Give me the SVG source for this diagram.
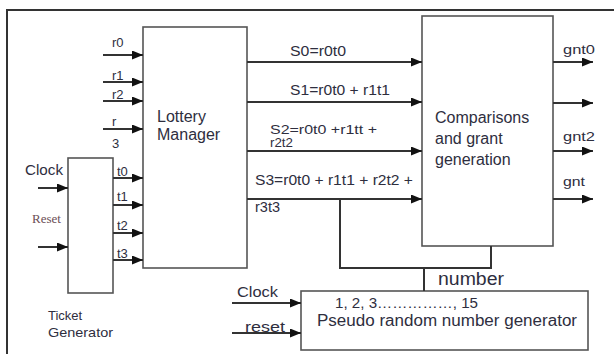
<svg xmlns="http://www.w3.org/2000/svg" width="614" height="354" viewBox="0 0 614 354">
<defs>
<marker id="ah" markerUnits="userSpaceOnUse" markerWidth="12" markerHeight="10" refX="11" refY="4.5" orient="auto">
<path d="M0,0 L11,4.5 L0,9 z" fill="#111"/>
</marker>
<style>
.box{fill:#fff;stroke:#555;stroke-width:1.6}
.ln{fill:none;stroke:#333;stroke-width:2}
.ar{fill:none;stroke:#333;stroke-width:2;marker-end:url(#ah)}
text{font-family:"Liberation Sans",Arial,sans-serif;fill:#2e2e3e}
.s{font-size:13px}
.m{font-size:14px}
.l{font-size:16px}
</style>
</defs>
<rect width="614" height="354" fill="#fff"/>
<path class="ln" d="M7,354 V10 H614"/>
<g id="lottery-manager">
<rect class="box" x="143" y="27" width="104" height="241"/>
<text class="l" x="157" y="122">Lottery</text>
<text class="l" x="157" y="140">Manager</text>
</g>
<g id="comparisons">
<rect class="box" x="422" y="16" width="131" height="230"/>
<text class="l" x="435" y="123">Comparisons</text>
<text class="l" x="435" y="144">and grant</text>
<text class="l" x="435" y="165">generation</text>
</g>
<g id="ticket-generator">
<rect class="box" x="68" y="158" width="45" height="135"/>
<text class="s" x="48" y="320">Ticket</text>
<text class="s" x="48" y="337" textLength="65" lengthAdjust="spacingAndGlyphs">Generator</text>
</g>
<g id="prng">
<rect class="box" x="301" y="291" width="287" height="59"/>
<text x="335" y="308" font-size="15" textLength="143" lengthAdjust="spacingAndGlyphs">1, 2, 3……………, 15</text>
<text class="l" x="317" y="326" textLength="260" lengthAdjust="spacingAndGlyphs">Pseudo random number generator</text>
</g>
<g id="connectors">
<path class="ar" d="M103,55 H143"/>
<path class="ar" d="M103,82 H143"/>
<path class="ar" d="M103,101 H143"/>
<path class="ar" d="M103,129 H143"/>
<path class="ar" d="M113,178 H143"/>
<path class="ar" d="M113,205 H143"/>
<path class="ar" d="M113,233 H143"/>
<path class="ar" d="M113,260 H143"/>
<path class="ar" d="M38,188 H68"/>
<path class="ar" d="M38,247 H68"/>
<path class="ar" d="M247,62 H422"/>
<path class="ar" d="M247,102 H422"/>
<path class="ar" d="M247,151 H422"/>
<path class="ar" d="M247,199 H422"/>
<path class="ar" d="M553,62 H593"/>
<path class="ar" d="M553,103 H593"/>
<path class="ar" d="M553,151 H593"/>
<path class="ar" d="M553,199 H593"/>
<path class="ln" d="M340,199 V268 H491 V246"/>
<path class="ln" d="M424,268 V291"/>
<path class="ar" d="M232,303 H301"/>
<path class="ar" d="M232,333 H301"/>
</g>
<g id="labels">
<text class="s" x="112" y="47">r0</text>
<text class="s" x="112" y="80">r1</text>
<text class="s" x="112" y="99">r2</text>
<text class="s" x="112" y="126">r</text>
<text class="s" x="112" y="148">3</text>
<text class="s" x="117" y="176">t0</text>
<text class="s" x="117" y="201">t1</text>
<text class="s" x="117" y="230">t2</text>
<text class="s" x="117" y="258">t3</text>
<text x="25" y="175" font-size="15" textLength="38" lengthAdjust="spacingAndGlyphs">Clock</text>
<text x="32" y="223" font-size="13" style="font-family:'Liberation Serif',serif;fill:#6b4e55">Reset</text>
<text class="m" x="290" y="56" textLength="56" lengthAdjust="spacingAndGlyphs">S0=r0t0</text>
<text class="m" x="290" y="95" textLength="100" lengthAdjust="spacingAndGlyphs">S1=r0t0 + r1t1</text>
<text x="270" y="134" font-size="13" textLength="107" lengthAdjust="spacingAndGlyphs">S2=r0t0 +r1tt +</text>
<text x="270" y="147" font-size="12" textLength="23" lengthAdjust="spacingAndGlyphs">r2t2</text>
<text class="m" x="255" y="185" textLength="158" lengthAdjust="spacingAndGlyphs">S3=r0t0 + r1t1 + r2t2 +</text>
<text class="m" x="255" y="212" textLength="25" lengthAdjust="spacingAndGlyphs">r3t3</text>
<text class="s" x="563" y="54" textLength="32" lengthAdjust="spacingAndGlyphs">gnt0</text>
<text class="s" x="563" y="141" textLength="32" lengthAdjust="spacingAndGlyphs">gnt2</text>
<text class="s" x="563" y="186" textLength="22" lengthAdjust="spacingAndGlyphs">gnt</text>
<text x="438" y="285" font-size="18" textLength="66" lengthAdjust="spacingAndGlyphs">number</text>
<text x="237" y="297" font-size="15" textLength="41" lengthAdjust="spacingAndGlyphs">Clock</text>
<text x="245" y="332" font-size="15" textLength="40" lengthAdjust="spacingAndGlyphs">reset</text>
</g>
</svg>
